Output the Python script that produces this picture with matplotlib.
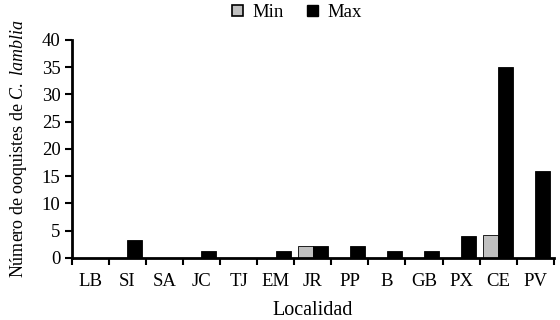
import numpy as np
import matplotlib
matplotlib.use("Agg")
import matplotlib.pyplot as plt
from matplotlib.patches import Patch

plt.rcParams['font.family'] = ['Liberation Serif', 'DejaVu Serif']
plt.rcParams['mathtext.fontset'] = 'custom'
plt.rcParams['mathtext.rm'] = 'Liberation Serif'
plt.rcParams['mathtext.it'] = 'Liberation Serif:italic'

localidades = ['LB', 'SI', 'SA', 'JC', 'TJ', 'EM', 'JR', 'PP', 'B', 'GB', 'PX', 'CE', 'PV']
min_vals = [0, 0, 0, 0, 0, 0, 2.2, 0, 0, 0, 0, 4.2, 0]
max_vals = [0, 3.2, 0, 1.2, 0, 1.2, 2.2, 2.2, 1.2, 1.2, 4.0, 35, 16]

fig = plt.figure(figsize=(5.6, 3.2), dpi=100)
ax = fig.add_axes([0.128, 0.194, 0.861, 0.681])

x = np.arange(len(localidades))
w = 0.4
ax.bar(x - w / 2, min_vals, w, color='#c0c0c0', edgecolor='black', linewidth=0.6, label='Min')
ax.bar(x + w / 2, max_vals, w, color='black', edgecolor='black', linewidth=0.6, label='Max')

ax.set_xlim(-0.5, len(localidades) - 0.5)
ax.set_ylim(0, 40)
ax.set_yticks(range(0, 41, 5))
ax.set_xticks(x)
ax.set_xticklabels(localidades)
ax.set_xticks(np.arange(-0.5, len(localidades), 1), minor=True)
ax.tick_params(axis='x', which='major', length=0, pad=11, labelsize=13.5)
ax.tick_params(axis='x', which='minor', length=5, width=1.5, direction='out')
ax.tick_params(axis='y', length=5, width=1.5, direction='out', labelsize=13.5, pad=3)

for s in ['top', 'right']:
    ax.spines[s].set_visible(False)
for s in ['left', 'bottom']:
    ax.spines[s].set_linewidth(2)

ax.set_xlabel('Localidad', fontsize=14.5, labelpad=8)
ax.set_ylabel(r'Número de ooquistes de $\mathit{C.}$ $\mathit{lamblia}$', fontsize=13, labelpad=9)

handles = [Patch(facecolor='#c0c0c0', edgecolor='black', linewidth=1.2, label='Min'),
           Patch(facecolor='black', edgecolor='black', label='Max')]
fig.legend(handles=handles, loc='upper center', bbox_to_anchor=(0.53, 1.04), ncol=2,
           frameon=False, fontsize=13.5, handlelength=0.6, handleheight=0.6,
           handletextpad=0.5, columnspacing=1.2)

fig.savefig('out.png', dpi=100)
